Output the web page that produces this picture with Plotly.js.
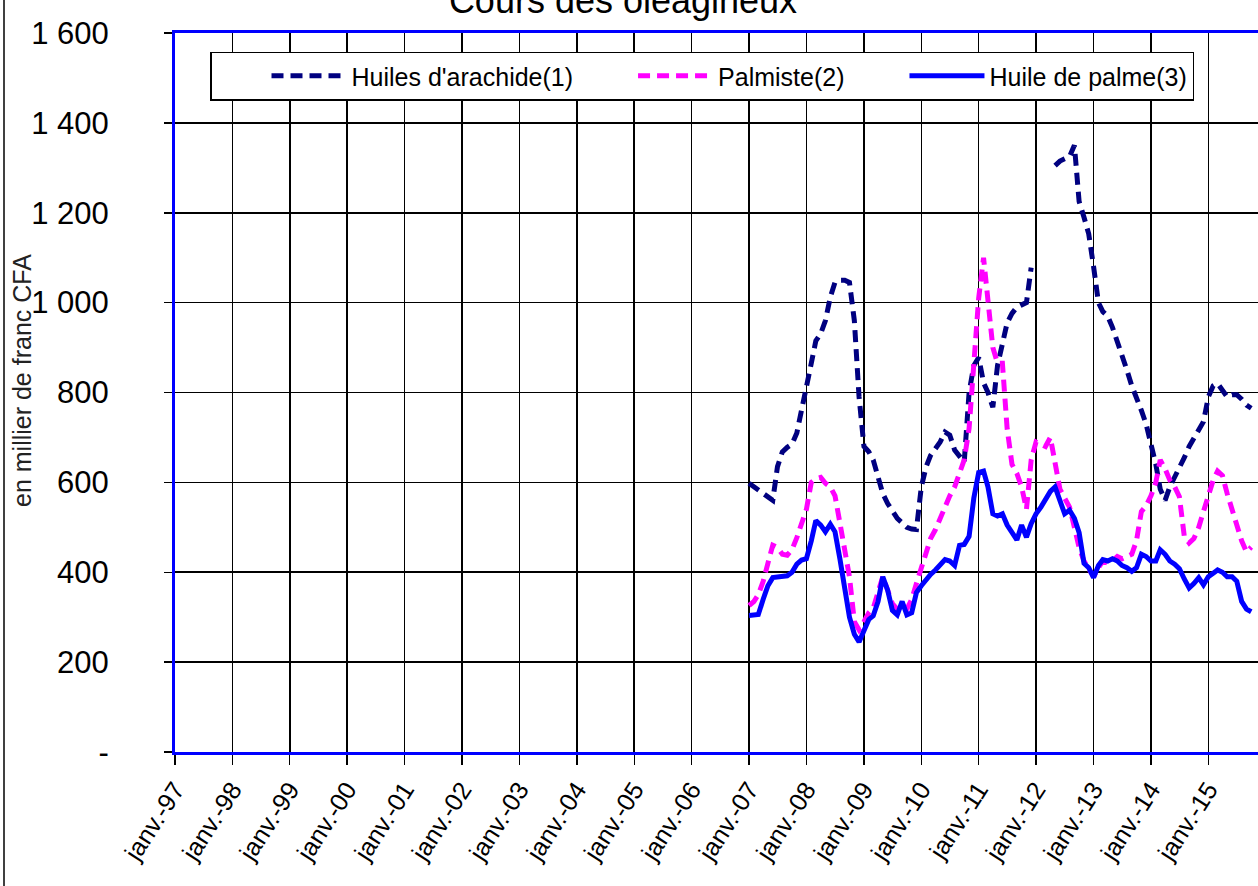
<!DOCTYPE html>
<html>
<head>
<meta charset="utf-8">
<script src="https://cdn.plot.ly/plotly-3.0.1.min.js"></script>
<style>
html,body{margin:0;padding:0;overflow:hidden;background:#ffffff;}
#chart{width:1280px;height:886px;}
</style>
</head>
<body>
<div id="chart"></div>
<script>
// ---- Data (monthly, from janv. 2007) ----
const firstYear = 2007;
const monthCount = 106;

const arachide = [
  598,590,582,575,565,560,635,668,678,685,710,765,
  810,865,915,931,960,1012,1045,1050,1050,1045,960,790,
  680,668,650,615,575,553,535,520,510,500,496,495,
  590,635,660,676,690,712,705,672,660,645,800,860,
  878,822,800,767,860,915,955,976,990,995,1000,1078,
  null,null,null,null,1305,1315,1320,1325,1350,1225,1190,1153,
  1080,1000,980,970,945,915,885,850,815,790,760,730,
  685,640,585,560,590,610,630,655,680,700,716,735,
  790,815,820,805,790,795,795,785,772,765
];

const palmiste = [
  326,335,350,380,420,460,455,440,438,450,477,505,
  540,600,608,611,598,590,570,510,450,390,290,272,
  290,310,320,360,390,360,330,318,325,318,340,375,
  410,445,475,495,520,550,570,590,620,650,720,850,
  1010,1100,1010,900,865,865,720,640,620,590,540,650,
  690,685,680,700,640,585,565,545,500,455,425,405,
  390,410,425,420,425,435,430,435,440,470,535,548,
  570,600,650,630,605,590,568,480,465,475,500,535,
  570,605,625,615,575,538,510,470,445,456
];

const palme = [
  304,304,306,340,370,388,390,390,392,400,418,427,
  430,470,515,505,490,507,490,430,360,300,262,245,
  270,295,303,335,390,360,315,305,335,305,310,355,
  370,385,395,405,418,428,425,415,460,462,480,565,
  622,625,590,530,525,530,505,490,472,505,478,508,
  530,545,560,580,590,555,530,538,520,488,420,410,
  388,415,428,425,430,425,415,410,402,410,440,435,
  425,425,450,440,425,418,408,385,365,375,388,372,
  390,398,405,400,390,390,380,335,318,312
];

const seriesNames = ["Huiles d'arachide(1)", "Palmiste(2)", "Huile de palme(3)"];

const xTickVals = [
  '1997-01-01','1998-01-01','1999-01-01','2000-01-01','2001-01-01','2002-01-01',
  '2003-01-01','2004-01-01','2005-01-01','2006-01-01','2007-01-01','2008-01-01',
  '2009-01-01','2010-01-01','2011-01-01','2012-01-01','2013-01-01','2014-01-01','2015-01-01'
];
const xTickText = [
  'janv.-97','janv.-98','janv.-99','janv.-00','janv.-01','janv.-02',
  'janv.-03','janv.-04','janv.-05','janv.-06','janv.-07','janv.-08',
  'janv.-09','janv.-10','janv.-11','janv.-12','janv.-13','janv.-14','janv.-15'
];
const yTickVals = [0,200,400,600,800,1000,1200,1400,1600];
const yTickText = ['-','200','400','600','800','1 000','1 200','1 400','1 600'];
const yTitle = 'en millier de franc CFA';
const chartTitle = 'Cours des oléagineux';

// month dates (categories)
const months = [];
for (let i = 0; i < monthCount; i++) {
  const y = firstYear + Math.floor(i / 12);
  const m = (i % 12) + 1;
  months.push(y + '-' + String(m).padStart(2, '0') + '-01');
}

const FONT = '"Liberation Sans", Arial, sans-serif';

const traces = [
  {x: months, y: arachide, name: seriesNames[0], type: 'scatter', mode: 'lines',
   connectgaps: false, line: {color: '#000080', width: 5, dash: '12px,7px'}},
  {x: months, y: palmiste, name: seriesNames[1], type: 'scatter', mode: 'lines',
   line: {color: '#ff00ff', width: 5, dash: '12px,7px'}},
  {x: months, y: palme, name: seriesNames[2], type: 'scatter', mode: 'lines',
   line: {color: '#0000ff', width: 5}}
];

const W = 1280, L = 175, T = 33, B = 134, H = 886;
const plotW = W - L;
const plotH = H - T - B;
const px2x = p => (p - L) / plotW;
const py2y = p => (H - B - p) / plotH;

const layout = {
  width: W, height: H,
  margin: {l: L, r: 0, t: T, b: B},
  paper_bgcolor: '#ffffff', plot_bgcolor: '#ffffff',
  font: {family: FONT, color: '#000000'},
  showlegend: true,
  title: {
    text: chartTitle,
    font: {family: FONT, size: 36, color: '#000000'},
    xref: 'container', yref: 'container',
    x: 623 / W, xanchor: 'center', y: 1, yanchor: 'middle'
  },
  xaxis: {
    type: 'date',
    range: ['1997-01-01', '2016-04-01'],
    tickmode: 'array', tickvals: xTickVals, ticktext: xTickText,
    tickangle: -57,
    tickfont: {family: FONT, size: 25, color: '#000000'},
    ticks: 'outside', ticklen: 10, tickcolor: '#000000', tickwidth: 1.5,
    showgrid: true, gridcolor: '#000000', gridwidth: 1.6,
    showline: true, linecolor: '#0000ff', linewidth: 3, mirror: true,
    zeroline: false, fixedrange: true
  },
  yaxis: {
    range: [0, 1600],
    tickmode: 'array', tickvals: yTickVals, ticktext: yTickText,
    tickfont: {family: FONT, size: 31, color: '#000000'},
    ticks: 'outside', ticklen: 8, tickcolor: '#000000', tickwidth: 1.5,
    ticklabelstandoff: 49,
    showgrid: true, gridcolor: '#000000', gridwidth: 1.6,
    showline: true, linecolor: '#0000ff', linewidth: 3, mirror: true,
    zeroline: false, fixedrange: true
  },
  legend: {
    orientation: 'h',
    x: px2x(210), xanchor: 'left',
    y: py2y(76), yanchor: 'middle',
    bgcolor: '#ffffff', bordercolor: '#000000', borderwidth: 1.5,
    font: {family: FONT, size: 25, color: '#000000'},
    itemwidth: 75,
    indentation: 55
  },
  annotations: [
    {text: yTitle, xref: 'paper', yref: 'paper', x: px2x(22), y: py2y(381),
     xanchor: 'center', yanchor: 'middle', textangle: -90, showarrow: false,
     font: {family: FONT, size: 25, color: '#222222'}}
  ],
  shapes: [
    {type: 'line', xref: 'paper', yref: 'paper',
     x0: px2x(4), x1: px2x(4), y0: -0.3, y1: 1.2,
     line: {color: '#000000', width: 1.5}}
  ]
};

Plotly.newPlot('chart', traces, layout, {displayModeBar: false, staticPlot: true});
</script>
</body>
</html>
